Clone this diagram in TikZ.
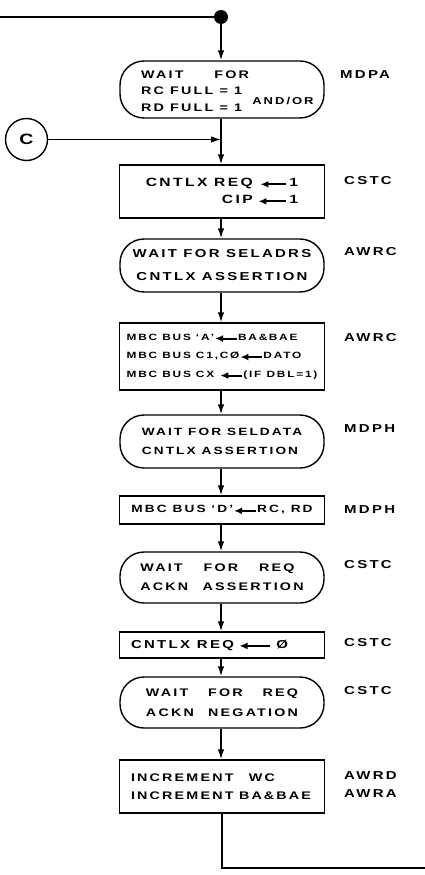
\documentclass[tikz,border=0pt]{standalone}
\usepackage{fontspec}
\setmainfont{Liberation Sans Bold}[FakeStretch=1.3,LetterSpace=20]
\usetikzlibrary{arrows.meta}
\newcommand{\lar}[1][22pt]{\tikz[baseline=-0.35ex]\draw[line width=2pt,-{Latex[length=8pt,width=7pt]}] (#1,0)--(0,0);}
\tikzset{
  term/.style={draw, line width=1.4pt, rounded corners=24pt, minimum width=204pt, inner sep=0pt},
  proc/.style={draw, line width=1.4pt, minimum width=205pt, inner sep=0pt},
  txt/.style={inner sep=0pt, font=\fontsize{11}{19}\selectfont},
  tag/.style={anchor=west, inner sep=0pt, font=\fontsize{11.5}{18}\selectfont},
  flow/.style={line width=1.4pt, -{Latex[length=10pt,width=6.5pt]}},
  plain/.style={line width=1.4pt}
}
\begin{document}
\begin{tikzpicture}[x=1pt,y=-1pt]
\useasboundingbox (0,0) rectangle (425,875);
% coordinates
\coordinate (in) at (0,17);
\node[circle, fill=black, inner sep=0pt, minimum size=14pt] (dot) at (221,17) {};
\coordinate (out) at (425,868);
% nodes
\node[term, minimum height=57pt] (t1) at (222,89.5) {};
\node[txt, anchor=west, align=left, font=\fontsize{11}{16.5}\selectfont] (t1t) at (141,91) {WAIT\hspace{2.8em}FOR\\RC FULL = 1\\RD FULL = 1};
\node[txt, font=\fontsize{10}{12}\selectfont] (andor) at (283,101) {AND/OR};
\node[circle, draw, line width=1.4pt, minimum size=42pt, inner sep=0pt, font=\fontsize{15}{15}\selectfont] (c) at (26.5,139.5) {C};
\node[proc, minimum height=53pt, txt, align=right, font=\fontsize{12}{17}\selectfont] (b2) at (222,191.5) {CNTLX REQ \lar[26pt]\,1\\CIP\hspace{0.4em}\lar[28pt]\,1};
\node[term, minimum height=53pt, txt, align=center, font=\fontsize{11.5}{23}\selectfont] (t3) at (222,265.5) {WAIT FOR SELADRS\\CNTLX ASSERTION};
\node[proc, minimum height=67pt, txt, align=left, font=\fontsize{9.1}{18.5}\selectfont] (b4) at (222,356.5) {MBC BUS ‘A’\lar BA\&\,BAE\\ MBC BUS C1,CØ\lar DATO\\MBC BUS CX \lar(IF DBL=1)};
\node[term, minimum height=53pt, txt, align=left, font=\fontsize{10.5}{19}\selectfont] (t5) at (222,441.5) {WAIT FOR SELDATA\\CNTLX ASSERTION};
\node[proc, minimum height=28pt, txt, font=\fontsize{10.5}{19}\selectfont] (b6) at (222,510) {MBC BUS ‘D’\lar RC, RD};
\node[term, minimum height=51pt, txt, align=left, font=\fontsize{11}{19}\selectfont] (t7) at (222,577.5) {WAIT\hspace{1.9em}FOR\hspace{1.9em}REQ\\ACKN\hspace{1.3em}ASSERTION};
\node[proc, minimum height=26pt, txt, text width=190pt, align=left, font=\fontsize{11.5}{19}\selectfont] (b8) at (222,645) {\hspace{4pt}CNTLX\hspace{0.6em}REQ\hspace{0.4em}\lar[30pt]\hspace{0.5em}Ø};
\node[term, minimum height=51pt, txt, align=left, font=\fontsize{11}{20}\selectfont] (t9) at (222,702.5) {WAIT\hspace{1.8em}FOR\hspace{1.8em}REQ\\ACKN\hspace{1.3em}NEGATION};
\node[proc, minimum height=53pt, txt, text width=190pt, align=left, font=\fontsize{11}{18}\selectfont] (b10) at (222,786.5) {\hspace{4pt}INCREMENT\hspace{1.4em}WC\\\hspace{4pt}INCREMENT\hspace{0.5em}BA\hspace{2pt}\&\hspace{2pt}BAE};
% tags
\node[tag] (l1) at (340,75) {MDPA};
\node[tag] (l2) at (344,181) {CSTC};
\node[tag] (l3) at (344,252) {AWRC};
\node[tag] (l4) at (344,338) {AWRC};
\node[tag] (l5) at (344,429) {MDPH};
\node[tag] (l6) at (344,510) {MDPH};
\node[tag] (l7) at (344,565) {CSTC};
\node[tag] (l8) at (344,643) {CSTC};
\node[tag] (l9) at (344,691) {CSTC};
\node[tag] (l10) at (344,776) {AWRD};
\node[tag] (l11) at (344,794) {AWRA};
% connectors
\draw[plain] (in) -- (dot);
\draw[flow] (dot) -- (dot |- t1.north);
\draw[flow] (c.east) -- (c.east -| dot);
\draw[flow] (dot |- t1.south) -- (dot |- b2.north);
\draw[flow] (dot |- b2.south) -- (dot |- t3.north);
\draw[flow] (dot |- t3.south) -- (dot |- b4.north);
\draw[flow] (dot |- b4.south) -- (dot |- t5.north);
\draw[flow] (dot |- t5.south) -- (dot |- b6.north);
\draw[flow] (dot |- b6.south) -- (dot |- t7.north);
\draw[flow] (dot |- t7.south) -- (dot |- b8.north);
\draw[flow] (dot |- b8.south) -- (dot |- t9.north);
\draw[flow] (dot |- t9.south) -- (dot |- b10.north);
\draw[plain] (b10.south) |- (out);
\end{tikzpicture}
\end{document}
